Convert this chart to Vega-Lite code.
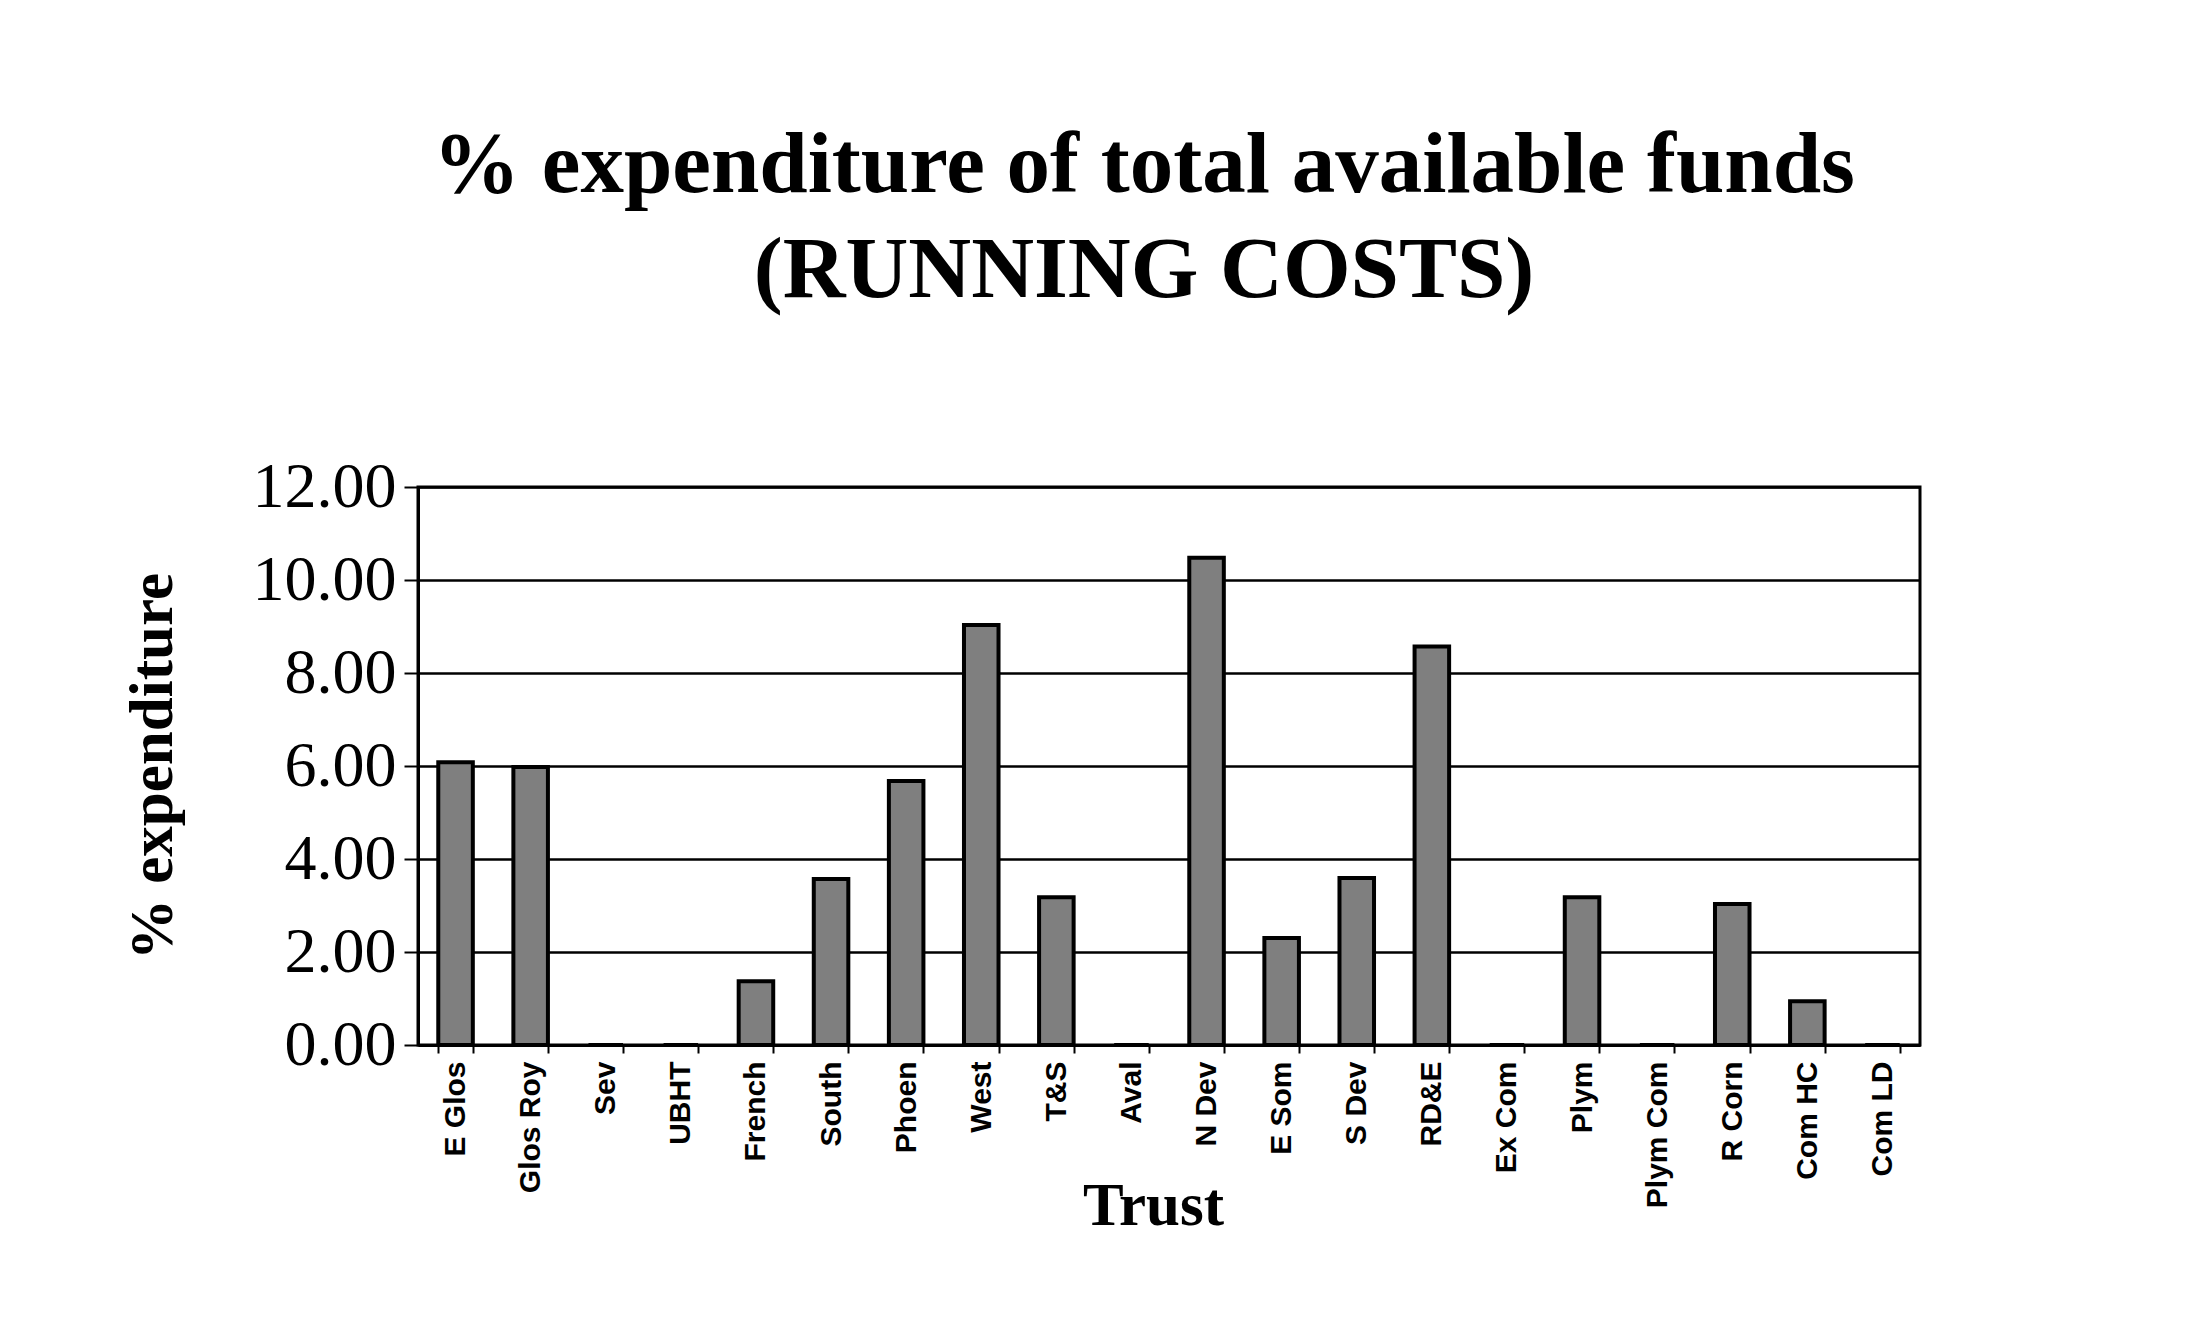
{
  "$schema": "https://vega.github.io/schema/vega-lite/v6.json",
  "autosize": {"type": "none"},
  "width": 1502,
  "height": 558,
  "padding": {"left": 418, "top": 487, "right": 285, "bottom": 276},
  "background": "white",
  "title": {
    "text": ["% expenditure of total available funds", "(RUNNING COSTS)"],
    "font": "Liberation Serif",
    "fontWeight": "bold",
    "fontSize": 87,
    "lineHeight": 105,
    "color": "black",
    "anchor": "middle",
    "dx": -25,
    "offset": 140
  },
  "data": {
    "values": [
      {"trust": "E Glos", "pct": 6.08},
      {"trust": "Glos Roy", "pct": 5.98},
      {"trust": "Sev", "pct": 0},
      {"trust": "UBHT", "pct": 0},
      {"trust": "French", "pct": 1.37},
      {"trust": "South", "pct": 3.57},
      {"trust": "Phoen", "pct": 5.68},
      {"trust": "West", "pct": 9.03},
      {"trust": "T&S", "pct": 3.18},
      {"trust": "Aval", "pct": 0},
      {"trust": "N Dev", "pct": 10.48},
      {"trust": "E Som", "pct": 2.3},
      {"trust": "S Dev", "pct": 3.59},
      {"trust": "RD&E", "pct": 8.57},
      {"trust": "Ex Com", "pct": 0},
      {"trust": "Plym", "pct": 3.18},
      {"trust": "Plym Com", "pct": 0},
      {"trust": "R Corn", "pct": 3.03},
      {"trust": "Com HC", "pct": 0.94},
      {"trust": "Com LD", "pct": 0}
    ]
  },
  "mark": {"type": "bar", "fill": "#7f7f7f", "stroke": "black", "strokeWidth": 4},
  "encoding": {
    "x": {
      "field": "trust",
      "type": "nominal",
      "sort": null,
      "scale": {"paddingInner": 0.54, "paddingOuter": 0.27},
      "axis": {
        "title": "Trust",
        "titleFont": "Liberation Serif",
        "titleFontWeight": "bold",
        "titleFontSize": 61,
        "titleColor": "black",
        "titleX": 735,
        "titleY": 179,
        "titleBaseline": "alphabetic",
        "labelAngle": -90,
        "labelFont": "Liberation Sans Narrow, Liberation Sans",
        "labelFontWeight": "bold",
        "labelFontSize": 30,
        "labelColor": "black",
        "labelPadding": 8,
        "tickBand": "extent",
        "tickColor": "black",
        "tickSize": 8,
        "tickWidth": 2,
        "domainColor": "black",
        "domainWidth": 3,
        "grid": false
      }
    },
    "y": {
      "field": "pct",
      "type": "quantitative",
      "scale": {"domain": [0, 12], "nice": false},
      "axis": {
        "title": "% expenditure",
        "titleFont": "Liberation Serif",
        "titleFontWeight": "bold",
        "titleFontSize": 61,
        "titleColor": "black",
        "titlePadding": 68,
        "values": [0, 2, 4, 6, 8, 10, 12],
        "format": ".2f",
        "labelFont": "Liberation Serif",
        "labelFontSize": 64,
        "labelColor": "black",
        "labelPadding": 8,
        "tickColor": "black",
        "tickSize": 14,
        "tickWidth": 2,
        "domainColor": "black",
        "domainWidth": 3,
        "grid": true,
        "gridColor": "black",
        "gridWidth": 2.5,
        "gridOpacity": 1
      }
    }
  },
  "config": {
    "view": {"stroke": "black", "strokeWidth": 3}
  }
}
